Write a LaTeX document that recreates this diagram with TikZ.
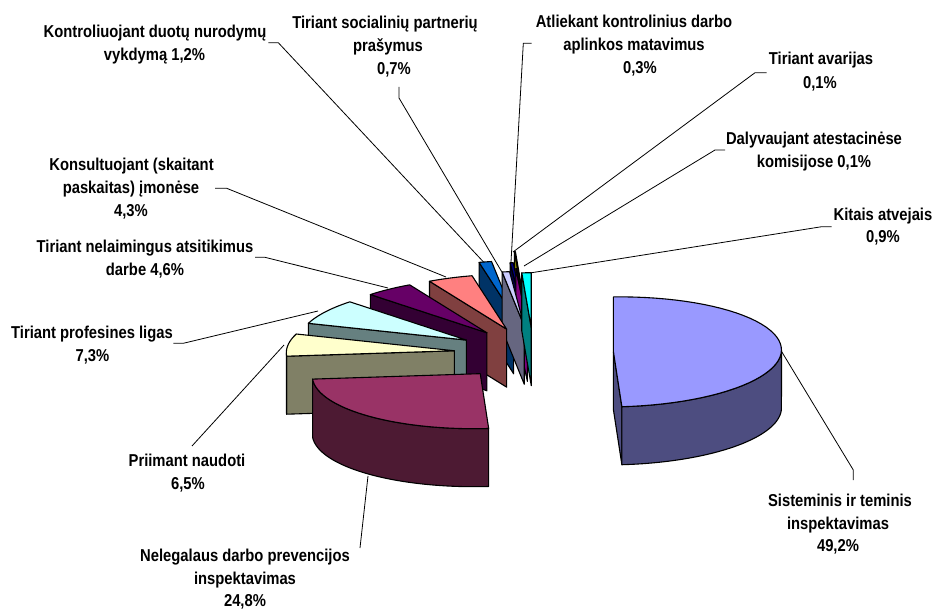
\documentclass[tikz,border=0pt]{standalone}
\usepackage{fontspec}
\newfontfamily\lblfont{Liberation Sans}[FakeStretch=0.86]
\definecolor{c1}{HTML}{9999FF}\definecolor{c1s}{HTML}{4D4D80}
\definecolor{c2}{HTML}{993366}\definecolor{c2s}{HTML}{4D1A33}
\definecolor{c3}{HTML}{FFFFCC}\definecolor{c3s}{HTML}{808066}
\definecolor{c4}{HTML}{CCFFFF}\definecolor{c4s}{HTML}{668080}
\definecolor{c5}{HTML}{660066}\definecolor{c5s}{HTML}{330033}
\definecolor{c6}{HTML}{FF8080}\definecolor{c6s}{HTML}{804040}
\definecolor{c7}{HTML}{0066CC}\definecolor{c7s}{HTML}{003366}
\definecolor{c8}{HTML}{CCCCFF}\definecolor{c8s}{HTML}{666680}
\definecolor{c9}{HTML}{000080}\definecolor{c9s}{HTML}{000040}
\definecolor{c10}{HTML}{FF00FF}\definecolor{c10s}{HTML}{800080}
\definecolor{c11}{HTML}{FFFF00}\definecolor{c11s}{HTML}{808000}
\definecolor{c12}{HTML}{00FFFF}\definecolor{c12s}{HTML}{008080}
\def\Ox{533.5}\def\Oy{353.5}
\def\Xx{168}\def\Xy{-2}
\def\Yx{0}\def\Yy{-55}
\def\Dx{0}\def\Dy{58}
% #1 start angle, #2 end angle, #3 explode, #4 top colour, #5 side colour, #6 name
\newcommand\pieslice[6]{%
  \pgfmathsetmacro\sMid{(#1+#2)/2}%
  \pgfmathsetmacro\sCx{\Ox+#3*(sin(\sMid)*\Xx+cos(\sMid)*\Yx)}%
  \pgfmathsetmacro\sCy{\Oy+#3*(sin(\sMid)*\Xy+cos(\sMid)*\Yy)}%
  \coordinate (#6-c) at (\sCx,\sCy);
  \coordinate (#6-cb) at ({\sCx+\Dx},{\sCy+\Dy});
  \coordinate (#6-a) at ({\sCx+sin(#1)*\Xx+cos(#1)*\Yx},{\sCy+sin(#1)*\Xy+cos(#1)*\Yy});
  \coordinate (#6-b) at ({\sCx+sin(#2)*\Xx+cos(#2)*\Yx},{\sCy+sin(#2)*\Xy+cos(#2)*\Yy});
  \pgfmathtruncatemacro\sVa{(sin(#1)<(-0.01))?1:0}%
  \pgfmathtruncatemacro\sVb{(sin(#2)>0.01)?1:0}%
  \ifnum\sVa=1
    \filldraw[face,fill=#5] (#6-c) -- (#6-a) -- ++(\Dx,\Dy) -- (#6-cb) -- cycle;
  \fi
  \ifnum\sVb=1
    \filldraw[face,fill=#5] (#6-c) -- (#6-b) -- ++(\Dx,\Dy) -- (#6-cb) -- cycle;
  \fi
  \pgfmathsetmacro\sA{max(#1,90)}%
  \pgfmathsetmacro\sB{min(#2,270)}%
  \pgfmathtruncatemacro\sVs{(\sA<\sB)?1:0}%
  \ifnum\sVs=1
    \filldraw[face,fill=#5]
      plot[domain=\sA:\sB,samples=50] ({\sCx+sin(\x)*\Xx+cos(\x)*\Yx},{\sCy+sin(\x)*\Xy+cos(\x)*\Yy})
      -- plot[domain=\sB:\sA,samples=50] ({\sCx+sin(\x)*\Xx+cos(\x)*\Yx+\Dx},{\sCy+sin(\x)*\Xy+cos(\x)*\Yy+\Dy})
      -- cycle;
  \fi
  \filldraw[face,fill=#4] (#6-c) --
      plot[domain=#1:#2,samples=50] ({\sCx+sin(\x)*\Xx+cos(\x)*\Yx},{\sCy+sin(\x)*\Xy+cos(\x)*\Yy})
      -- cycle;
}
\begin{document}
\begin{tikzpicture}[x=1pt,y=-1pt,line join=round,
  face/.style={draw=black,line width=1.1pt},
  lbl/.style={font=\lblfont\bfseries\fontsize{17.2}{23}\selectfont,inner sep=0pt,anchor=base},
  leader/.style={draw=black,line width=0.8pt}]
\useasboundingbox (0,0) rectangle (933,609);
% slices, back to front
\pieslice{356.4}{356.76}{0.86}{c11}{c11s}{dal}
\pieslice{348.12}{352.44}{0.70}{c7}{c7s}{kon}
\pieslice{354.96}{356.04}{0.66}{c9}{c9s}{atl}
\pieslice{356.04}{356.4}{0.55}{c10}{c10s}{ava}
\pieslice{352.44}{354.96}{0.50}{c8}{c8s}{soc}
\pieslice{356.76}{360}{0.47}{c12}{c12s}{kit}
\pieslice{332.64}{348.12}{0.476}{c6}{c6s}{kns}
\pieslice{316.08}{332.64}{0.476}{c5}{c5s}{nel}
\pieslice{289.8}{316.08}{0.476}{c4}{c4s}{pro}
\pieslice{266.4}{289.8}{0.476}{c3}{c3s}{pri}
\pieslice{0}{177.12}{0.476}{c1}{c1s}{sis}
\pieslice{177.12}{266.4}{0.476}{c2}{c2s}{neg}
% labels
\node[lbl] (Lkon1) at (155,38) {Kontroliuojant duotų nurodymų};
\node[lbl] (Lkon2) at (154.5,61) {vykdymą 1,2\%};
\node[lbl] (Lsoc1) at (385,29) {Tiriant socialinių partnerių};
\node[lbl] (Lsoc2) at (388,52) {prašymus};
\node[lbl] (Lsoc3) at (394,75) {0,7\%};
\node[lbl] (Latl1) at (634,28) {Atliekant kontrolinius darbo};
\node[lbl] (Latl2) at (634,51) {aplinkos matavimus};
\node[lbl] (Latl3) at (640,74) {0,3\%};
\node[lbl] (Lava1) at (821,65) {Tiriant avarijas};
\node[lbl] (Lava2) at (820,89) {0,1\%};
\node[lbl] (Ldal1) at (814,145) {Dalyvaujant atestacinėse};
\node[lbl] (Ldal2) at (814,168) {komisijose 0,1\%};
\node[lbl] (Lkit1) at (883,221) {Kitais atvejais};
\node[lbl] (Lkit2) at (883,243) {0,9\%};
\node[lbl] (Lkns1) at (131.5,171) {Konsultuojant (skaitant};
\node[lbl] (Lkns2) at (131,194) {paskaitas) įmonėse};
\node[lbl] (Lkns3) at (131,217) {4,3\%};
\node[lbl] (Lnel1) at (145,253) {Tiriant nelaimingus atsitikimus};
\node[lbl] (Lnel2) at (145,276) {darbe 4,6\%};
\node[lbl] (Lpro1) at (92,338) {Tiriant profesines ligas};
\node[lbl] (Lpro2) at (92.5,361) {7,3\%};
\node[lbl] (Lpri1) at (187,466) {Priimant naudoti};
\node[lbl] (Lpri2) at (188,489) {6,5\%};
\node[lbl] (Lneg1) at (245,561) {Nelegalaus darbo prevencijos};
\node[lbl] (Lneg2) at (245,584) {inspektavimas};
\node[lbl] (Lneg3) at (245,606) {24,8\%};
\node[lbl] (Lsis1) at (840,506) {Sisteminis ir teminis};
\node[lbl] (Lsis2) at (838,529) {inspektavimas};
\node[lbl] (Lsis3) at (838,551) {49,2\%};
% leader lines
\draw[leader] (268.3,42.7) -- (278.3,42.7) -- (483.5,262);
\draw[leader] (399,87) -- (399,98) -- (501.7,271.7);
\draw[leader] (531.7,43.3) -- (523.3,43.3) -- (511,262);
\draw[leader] (766.7,72.7) -- (755,72.7) -- (513,252);
\draw[leader] (725,150) -- (715,150) -- (524,266);
\draw[leader] (831.7,226.7) -- (821.7,226.7) -- (531.7,272.7);
\draw[leader] (215,188.3) -- (226.7,188.3) -- (446,277);
\draw[leader] (255,257.3) -- (265,257.3) -- (388,288);
\draw[leader] (173.3,343.3) -- (183.3,343.3) -- (318,311);
\draw[leader] (192,446) -- (284,345);
\draw[leader] (360,548) -- (368,476);
\draw[leader] (853.3,480) -- (853.3,470) -- (781.7,351.7);
\end{tikzpicture}
\end{document}
